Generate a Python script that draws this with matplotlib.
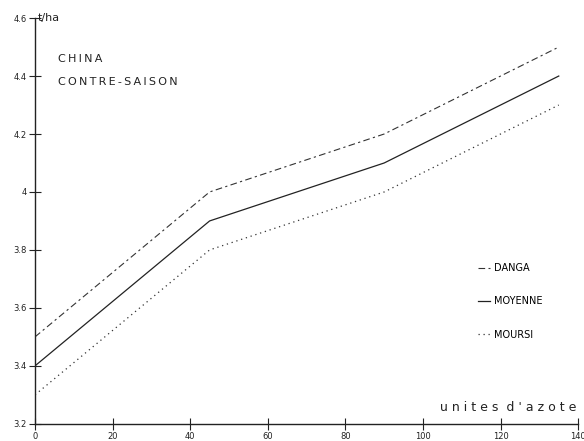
import matplotlib
matplotlib.use("Agg")
import matplotlib.pyplot as plt

# nitrogen units and yields (t/ha)
azote = [0, 45, 90, 135]
danga = [3.5, 4.0, 4.2, 4.5]
moyenne = [3.4, 3.9, 4.1, 4.4]
moursi = [3.3, 3.8, 4.0, 4.3]

xticks = [0, 20, 40, 60, 80, 100, 120, 140]
yticks = [3.2, 3.4, 3.6, 3.8, 4.0, 4.2, 4.4, 4.6]
ylabels = ["3.2", "3.4", "3.6", "3.8", "4", "4.2", "4.4", "4.6"]

def spaced(s):
    return "\u2009".join(s)

fig = plt.figure(figsize=(5.84, 4.41), dpi=100)
ax = fig.add_axes([0.060, 0.039, 0.930, 0.920])

ax.plot(azote, danga, color="#333333", lw=0.8, linestyle=(0, (6, 3, 2, 3)), label="DANGA")
ax.plot(azote, moyenne, color="#222222", lw=0.9, linestyle="solid", label="MOYENNE")
ax.plot(azote, moursi, color="#333333", lw=0.9, linestyle=(0, (1, 3)), label="MOURSI")

ax.set_xlim(0, 140)
ax.set_ylim(3.2, 4.6)
ax.set_xticks(xticks)
ax.set_yticks(yticks)
ax.set_yticklabels(ylabels)
ax.tick_params(direction="inout", length=8, width=0.8, labelsize=6, colors="#222222")
ax.tick_params(axis="x", pad=2)
ax.tick_params(axis="y", pad=2)
for s in ["top", "right"]:
    ax.spines[s].set_visible(False)
for s in ["left", "bottom"]:
    ax.spines[s].set_linewidth(1.0)
    ax.spines[s].set_color("#222222")

ax.text(0.8, 4.6, "t/ha", fontsize=8, va="center", ha="left", color="#222222")
ax.text(139.5, 3.235, "u n i t e s  d ' a z o t e", fontsize=9, ha="right", va="bottom", color="#222222")
ax.text(6, 4.46, spaced("CHINA"), fontsize=8, ha="left", va="center", color="#222222")
ax.text(6, 4.38, spaced("CONTRE-SAISON"), fontsize=8, ha="left", va="center", color="#222222")

ax.legend(loc="upper left", bbox_to_anchor=(0.8, 0.418), frameon=False, fontsize=7,
          handlelength=1.2, handletextpad=0.4, labelspacing=2.4)

fig.savefig("out.png", dpi=100)
